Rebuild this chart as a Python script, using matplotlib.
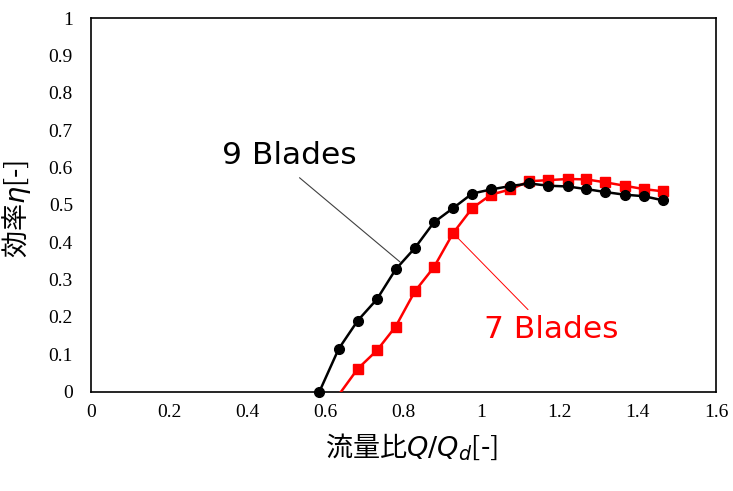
import numpy as np
import matplotlib
matplotlib.use("Agg")
import matplotlib.pyplot as plt

plt.rcParams["font.family"] = ["Noto Sans CJK JP", "DejaVu Sans"]

# flow ratio Q/Qd and efficiency for the two impellers
q_ratio = [0.585, 0.634, 0.683, 0.732, 0.780, 0.829, 0.878, 0.927, 0.976,
           1.024, 1.073, 1.122, 1.171, 1.220, 1.268, 1.317, 1.366, 1.415, 1.464]
eta_9 = [0.000, 0.114, 0.190, 0.247, 0.327, 0.384, 0.453, 0.491, 0.530,
         0.541, 0.550, 0.557, 0.551, 0.549, 0.542, 0.534, 0.527, 0.523, 0.512]
# 7 blades starts below zero (clipped by the axis, no marker shown there)
q_7 = [0.585, 0.683, 0.732, 0.780, 0.829, 0.878, 0.927, 0.976,
       1.024, 1.073, 1.122, 1.171, 1.220, 1.268, 1.317, 1.366, 1.415, 1.464]
eta_7 = [-0.080, 0.061, 0.110, 0.174, 0.268, 0.333, 0.424, 0.491,
         0.527, 0.541, 0.563, 0.566, 0.569, 0.568, 0.560, 0.551, 0.542, 0.536]

xticks = [0, 0.2, 0.4, 0.6, 0.8, 1, 1.2, 1.4, 1.6]
yticks = [0, 0.1, 0.2, 0.3, 0.4, 0.5, 0.6, 0.7, 0.8, 0.9, 1]

fig = plt.figure(figsize=(7.33, 4.91), dpi=100)
ax = fig.add_axes([0.1241, 0.2026, 0.8527, 0.7607])

ax.plot(q_7, eta_7, color="#ff0000", lw=1.8, marker="s", ms=6.5,
        markevery=list(range(1, len(q_7))), zorder=3)
ax.plot(q_ratio, eta_9, color="black", lw=1.8, marker="o", ms=7,
        clip_on=False, zorder=4)

ax.set_xlim(0, 1.6)
ax.set_ylim(0, 1)
ax.set_xticks(xticks)
ax.set_yticks(yticks)
ax.set_xticklabels([f"{t:g}" for t in xticks], family="Liberation Serif", fontsize=14)
ax.set_yticklabels([f"{t:g}" for t in yticks], family="Liberation Serif", fontsize=14)
ax.tick_params(axis="x", length=0, pad=9)
ax.tick_params(axis="y", length=0, pad=13)
for s in ax.spines.values():
    s.set_linewidth(1.2)

ax.set_xlabel("流量比$Q/Q_d$[-]", fontsize=19.5)
ax.xaxis.set_label_coords(0.512, -0.105)
ax.set_ylabel("効率$\\eta$[-]", fontsize=19.5)
ax.yaxis.set_label_coords(-0.092, 0.49)

ax.annotate("9 Blades", xy=(0.791, 0.347), xytext=(0.509, 0.633),
            ha="center", va="center", fontsize=22.5, color="black",
            family=["DejaVu Sans"],
            arrowprops=dict(arrowstyle="-", color="#404040", lw=0.8,
                            relpos=(0.5, 0), shrinkA=6, shrinkB=0))
ax.annotate("7 Blades", xy=(0.927, 0.424), xytext=(1.178, 0.165),
            ha="center", va="center", fontsize=22.5, color="#ff0000",
            family=["DejaVu Sans"],
            arrowprops=dict(arrowstyle="-", color="#ff0000", lw=0.7,
                            relpos=(0.37, 1), shrinkA=3, shrinkB=3))

plt.savefig("out.png", dpi=100)
plt.close()
